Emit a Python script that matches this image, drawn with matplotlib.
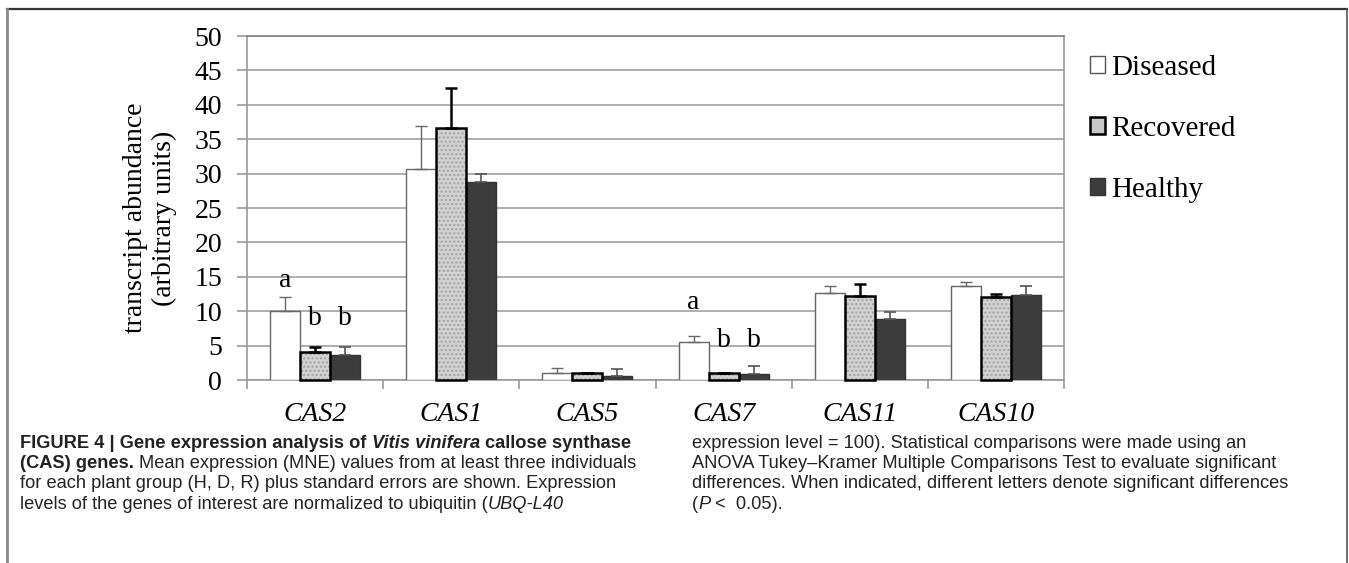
import numpy as np
import matplotlib.pyplot as plt
from matplotlib.patches import Patch
from matplotlib.lines import Line2D
from matplotlib.transforms import IdentityTransform

genes = ["CAS2", "CAS1", "CAS5", "CAS7", "CAS11", "CAS10"]
diseased = [10.0, 30.6, 1.0, 5.5, 12.6, 13.6]
diseased_err = [2.0, 6.3, 0.7, 0.85, 1.05, 0.6]
recovered = [4.0, 36.6, 1.0, 1.05, 12.2, 12.0]
recovered_err = [0.8, 5.9, 0.0, 0.0, 1.8, 0.5]
healthy = [3.6, 28.8, 0.6, 0.9, 8.9, 12.35]
healthy_err = [1.25, 1.1, 1.05, 1.15, 1.0, 1.25]

# significance letters (gene index, group offset index, letter, height)
letters = [(0, 0, "a", 14.5), (0, 1, "b", 8.9), (0, 2, "b", 8.9),
           (3, 0, "a", 11.2), (3, 1, "b", 5.8), (3, 2, "b", 5.8)]

serif = "Liberation Serif"
W, H = 1349, 563
fig = plt.figure(figsize=(W / 100, H / 100), dpi=100)
ax = fig.add_axes([247 / W, 1 - 380 / H, (1064 - 247) / W, (380 - 36) / H])

x = np.arange(len(genes)) + 0.5
bw = 0.22
gray = "#9a9a9a"

ax.bar(x - bw, diseased, bw, color="white", edgecolor="#666666", linewidth=1.0, zorder=3)
ax.bar(x, recovered, bw, color="#d2d2d2", edgecolor="#a0a0a0", linewidth=0, hatch="....", zorder=3)
ax.bar(x, recovered, bw, fill=False, edgecolor="black", linewidth=1.8, zorder=4, clip_on=False)
ax.bar(x + bw, healthy, bw, color="#3c3c3c", edgecolor="#333333", linewidth=1.0, zorder=3)

zeros = np.zeros(len(genes))
ax.errorbar(x - bw, diseased, yerr=[zeros, diseased_err], fmt="none", ecolor="#666666",
            elinewidth=1.0, capsize=4, capthick=1.0, zorder=5)
ax.errorbar(x, recovered, yerr=[zeros, recovered_err], fmt="none", ecolor="black",
            elinewidth=1.8, capsize=4, capthick=1.8, zorder=5)
ax.errorbar(x + bw, healthy, yerr=[zeros, healthy_err], fmt="none", ecolor="#555555",
            elinewidth=1.2, capsize=4, capthick=1.2, zorder=5)

for gi, k, s, h in letters:
    ax.text(x[gi] + (k - 1) * bw, h, s, ha="center", va="center", fontsize=20, family=serif, zorder=6)

ax.set_xlim(0, 6)
ax.set_ylim(0, 50)
ax.set_yticks(np.arange(0, 51, 5))
ax.set_yticklabels([str(v) for v in range(0, 51, 5)], fontsize=20, family=serif)
ax.set_xticks(np.arange(0, 7))
ax.set_xticklabels([])
ax.set_xticks(x, minor=True)
ax.set_xticklabels(genes, minor=True, fontsize=20, family=serif, style="italic")
ax.tick_params(axis="x", which="major", direction="out", length=6.5, color=gray, width=1.2)
ax.tick_params(axis="x", which="minor", length=0, pad=16)
ax.tick_params(axis="y", direction="out", length=7, color=gray, width=1.2, pad=11)
ax.grid(axis="y", color="#a8a8a8", linewidth=1.3, zorder=0)
ax.set_axisbelow(True)
for side in ["left", "bottom", "right", "top"]:
    ax.spines[side].set_color(gray)
    ax.spines[side].set_linewidth(1.2)
ax.spines["top"].set_color("#808080")

fig.text(150 / W, 1 - 218 / H, "transcript abundance\n(arbitrary units)", rotation=90,
         ha="center", va="center", multialignment="center", fontsize=20, family=serif)

handles = [Patch(facecolor="white", edgecolor="#555555", linewidth=1.0),
           Patch(facecolor="#c8c8c8", edgecolor="black", linewidth=1.8),
           Patch(facecolor="#3c3c3c", edgecolor="#333333", linewidth=1.0)]
fig.legend(handles, ["Diseased", "Recovered", "Healthy"], loc="upper left",
           bbox_to_anchor=(1090 / W, 1 - 55 / H), frameon=False, borderpad=0,
           borderaxespad=0, handlelength=0.53, handleheight=0.53, handletextpad=0.2,
           labelspacing=1.2, prop={"family": serif, "size": 21})

# outer frame
fig.add_artist(Line2D([7 / W, 1347 / W], [1 - 8.5 / H, 1 - 8.5 / H], color="#333333", lw=1.6))
fig.add_artist(Line2D([7 / W, 7 / W], [1 - 8.5 / H, 0], color="#888888", lw=2.0))
fig.add_artist(Line2D([1347 / W, 1347 / W], [1 - 8.5 / H, 0], color="#555555", lw=1.2))

# caption
renderer = fig.canvas.get_renderer()
cap_font = "Liberation Sans"
left_x, right_x = 20, 692


def text_width(s, size, weight="normal"):
    t = fig.text(0, 0, s, fontsize=size, family=cap_font, fontweight=weight)
    w = t.get_window_extent(renderer).width
    t.remove()
    return w


# fit caption size to the column width of the reference
w_a = text_width("differences. When indicated, different letters denote significant differences", 12)
w_b = text_width("for each plant group (H, D, R) plus standard errors are shown. Expression", 12)
cap_size = 12 * 0.5 * (612 / w_a + 585 / w_b)
space = text_width("a a", cap_size) - text_width("aa", cap_size)


def caption_line(x0, y0, parts):
    xx = x0
    for s, weight, style, gap in parts:
        t = fig.text(xx, H - y0, s, transform=IdentityTransform(), fontsize=cap_size,
                     family=cap_font, fontweight=weight, fontstyle=style,
                     va="baseline", ha="left", color="#222222")
        xx = t.get_window_extent(renderer).x1 + (space if gap else 0)


left_lines = [
    [("FIGURE 4 | Gene expression analysis of", "bold", "normal", True),
     ("Vitis vinifera", "bold", "italic", True),
     ("callose synthase", "bold", "normal", False)],
    [("(CAS) genes.", "bold", "normal", True),
     ("Mean expression (MNE) values from at least three individuals", "normal", "normal", False)],
    [("for each plant group (H, D, R) plus standard errors are shown. Expression", "normal", "normal", False)],
    [("levels of the genes of interest are normalized to ubiquitin (", "normal", "normal", False),
     ("UBQ-L40", "normal", "italic", False)],
]
right_lines = [
    [("expression level = 100). Statistical comparisons were made using an", "normal", "normal", False)],
    [("ANOVA Tukey\u2013Kramer Multiple Comparisons Test to evaluate significant", "normal", "normal", False)],
    [("differences. When indicated, different letters denote significant differences", "normal", "normal", False)],
    [("(", "normal", "normal", False), ("P", "normal", "italic", True),
     ("<  0.05).", "normal", "normal", False)],
]
baselines = [447.5, 468, 488.5, 509]
for yb, parts in zip(baselines, left_lines):
    caption_line(left_x, yb, parts)
for yb, parts in zip(baselines, right_lines):
    caption_line(right_x, yb, parts)

fig.savefig("out.png", dpi=100)
